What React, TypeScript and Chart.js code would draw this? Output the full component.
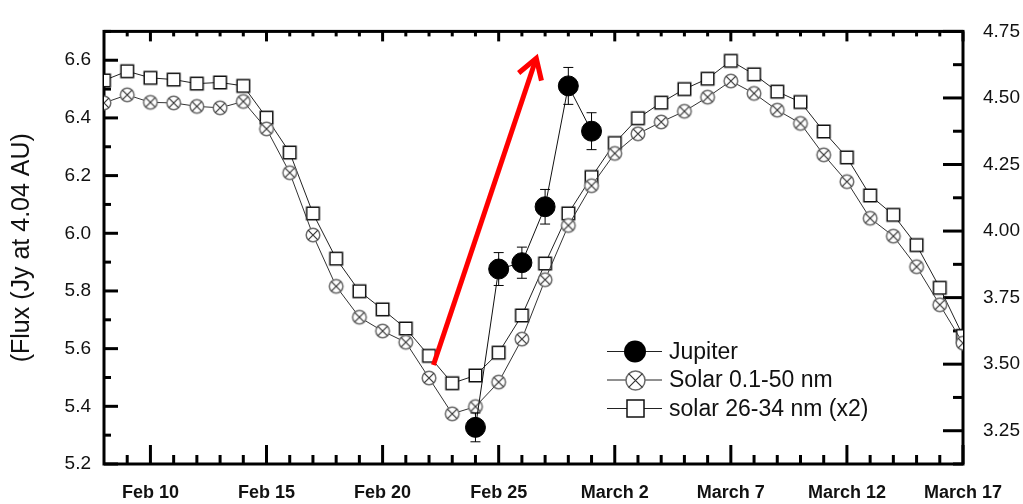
import React, { useEffect, useRef } from 'react';
import { Chart, registerables } from 'chart.js';

Chart.register(...registerables);

const FONT = '"Liberation Sans", Arial, Helvetica, sans-serif';

// Day numbers (Feb 8 = 8, March 1 = 29, March 17 = 45)
const days = [8, 9, 10, 11, 12, 13, 14, 15, 16, 17, 18, 19, 20, 21, 22, 23, 24, 25, 26, 27, 28,
  29, 30, 31, 32, 33, 34, 35, 36, 37, 38, 39, 40, 41, 42, 43, 44, 45];

const solarWide = [6.452, 6.480, 6.454, 6.452, 6.440, 6.435, 6.457, 6.362, 6.210, 5.994, 5.816,
  5.709, 5.661, 5.622, 5.498, 5.374, 5.399, 5.484, 5.633, 5.839, 6.027, 6.165, 6.277, 6.345,
  6.386, 6.423, 6.472, 6.528, 6.485, 6.427, 6.381, 6.272, 6.179, 6.052, 5.990, 5.884, 5.752, 5.619];

const solarNarrow = [6.530, 6.562, 6.539, 6.533, 6.519, 6.523, 6.511, 6.401, 6.280, 6.069, 5.912,
  5.799, 5.736, 5.670, 5.575, 5.480, 5.507, 5.586, 5.715, 5.895, 6.069, 6.195, 6.313, 6.399,
  6.453, 6.500, 6.536, 6.598, 6.551, 6.491, 6.455, 6.353, 6.263, 6.131, 6.064, 5.959, 5.811, 5.644];

const jupiterDays = [24, 25, 26, 27, 28, 29];
const jupiterFlux = [5.327, 5.876, 5.898, 6.092, 6.511, 6.354];
const jupiterErr = [0.05, 0.057, 0.054, 0.06, 0.064, 0.064];

const seriesLabels = ['Jupiter', 'Solar 0.1-50 nm', 'solar 26-34 nm (x2)'];

const xTickValues = [10, 15, 20, 25, 30, 35, 40, 45];
const xTickLabels = ['Feb 10', 'Feb 15', 'Feb 20', 'Feb 25', 'March 2', 'March 7', 'March 12', 'March 17'];
const xMinorValues = [9, 11, 12, 13, 14, 16, 17, 18, 19, 21, 22, 23, 24, 26, 27, 28, 29, 31, 32, 33,
  34, 36, 37, 38, 39, 41, 42, 43, 44];

const leftTicks = [5.2, 5.4, 5.6, 5.8, 6.0, 6.2, 6.4, 6.6];
const leftMinor = [5.3, 5.5, 5.7, 5.9, 6.1, 6.3, 6.5, 6.7];
const rightTicks = [3.25, 3.5, 3.75, 4.0, 4.25, 4.5, 4.75];
const rightMinor = [3.125, 3.375, 3.625, 3.875, 4.125, 4.375, 4.625];

const yTitle = '(Flux (Jy at 4.04 AU)';

// red arrow, in data coordinates [day, flux]
const arrowFrom = [22.19, 5.543];
const arrowTo = [26.62, 6.607];

function makeCrossCircle(r: number) {
  const s = Math.ceil(r * 2 + 4);
  const c = document.createElement('canvas');
  c.width = s; c.height = s;
  const ctx = c.getContext('2d')!;
  const m = s / 2;
  ctx.beginPath();
  ctx.arc(m, m, r, 0, Math.PI * 2);
  ctx.fillStyle = '#fff';
  ctx.fill();
  ctx.lineWidth = 1.5;
  ctx.strokeStyle = '#6a6a6a';
  ctx.stroke();
  const d = r * 0.72;
  ctx.beginPath();
  ctx.moveTo(m - d, m - d); ctx.lineTo(m + d, m + d);
  ctx.moveTo(m + d, m - d); ctx.lineTo(m - d, m + d);
  ctx.lineWidth = 1.2;
  ctx.strokeStyle = '#333';
  ctx.stroke();
  return c;
}

function makeSquare(side: number) {
  const s = Math.ceil(side + 4);
  const c = document.createElement('canvas');
  c.width = s; c.height = s;
  const ctx = c.getContext('2d')!;
  const o = (s - side) / 2;
  ctx.fillStyle = '#fff';
  ctx.fillRect(o, o, side, side);
  ctx.lineWidth = 1.5;
  ctx.strokeStyle = '#111';
  ctx.strokeRect(o, o, side, side);
  return c;
}

export default function App() {
  const ref = useRef<HTMLCanvasElement>(null);

  useEffect(() => {
    const crossMark = makeCrossCircle(6.8);
    const squareMark = makeSquare(12.5);
    const crossLegend = makeCrossCircle(9.5);
    const squareLegend = makeSquare(17);

    const framePlugin = {
      id: 'frame',
      beforeDatasetsDraw(chart: any) {
        const { ctx, chartArea: a, scales } = chart;
        ctx.save();
        ctx.strokeStyle = '#000';
        ctx.lineWidth = 3;
        ctx.lineCap = 'butt';
        const tick = (x1: number, y1: number, x2: number, y2: number) => {
          ctx.beginPath(); ctx.moveTo(x1, y1); ctx.lineTo(x2, y2); ctx.stroke();
        };
        leftTicks.forEach(v => { const y = scales.y.getPixelForValue(v); tick(a.left, y, a.left + 14, y); });
        leftMinor.forEach(v => { const y = scales.y.getPixelForValue(v); tick(a.left, y, a.left + 7, y); });
        rightTicks.forEach(v => { const y = scales.y2.getPixelForValue(v); tick(a.right - 20, y, a.right, y); });
        rightMinor.forEach(v => { const y = scales.y2.getPixelForValue(v); tick(a.right - 10, y, a.right, y); });
        xTickValues.forEach(v => {
          const x = scales.x.getPixelForValue(v);
          tick(x, a.bottom, x, a.bottom - 19);
          tick(x, a.top, x, a.top + 10);
        });
        xMinorValues.forEach(v => {
          const x = scales.x.getPixelForValue(v);
          tick(x, a.bottom, x, a.bottom - 9);
          tick(x, a.top, x, a.top + 5);
        });
        ctx.strokeRect(a.left, a.top, a.right - a.left, a.bottom - a.top);
        ctx.restore();
      },
      afterDatasetsDraw(chart: any) {
        const { ctx, scales } = chart;
        ctx.save();
        // error bars
        ctx.strokeStyle = '#000';
        ctx.lineWidth = 1;
        jupiterDays.forEach((d, i) => {
          const x = scales.x.getPixelForValue(d);
          const y1 = scales.y.getPixelForValue(jupiterFlux[i] - jupiterErr[i]);
          const y2 = scales.y.getPixelForValue(jupiterFlux[i] + jupiterErr[i]);
          ctx.beginPath();
          ctx.moveTo(x, y1); ctx.lineTo(x, y2);
          ctx.moveTo(x - 5, y1); ctx.lineTo(x + 5, y1);
          ctx.moveTo(x - 5, y2); ctx.lineTo(x + 5, y2);
          ctx.stroke();
        });
        // red arrow
        const ax1 = scales.x.getPixelForValue(arrowFrom[0]);
        const ay1 = scales.y.getPixelForValue(arrowFrom[1]);
        const ax2 = scales.x.getPixelForValue(arrowTo[0]);
        const ay2 = scales.y.getPixelForValue(arrowTo[1]);
        const ang = Math.atan2(ay2 - ay1, ax2 - ax1);
        ctx.strokeStyle = '#ff0000';
        ctx.lineWidth = 5;
        ctx.beginPath();
        ctx.moveTo(ax1, ay1);
        ctx.lineTo(ax2 - 3 * Math.cos(ang), ay2 - 3 * Math.sin(ang));
        ctx.stroke();
        const hl = 23, ha = 0.55;
        ctx.lineJoin = 'miter';
        ctx.beginPath();
        ctx.moveTo(ax2 - hl * Math.cos(ang - ha), ay2 - hl * Math.sin(ang - ha));
        ctx.lineTo(ax2, ay2);
        ctx.lineTo(ax2 - hl * Math.cos(ang + ha), ay2 - hl * Math.sin(ang + ha));
        ctx.stroke();
        // legend
        const rows = [351.5, 380, 408.5];
        ctx.font = `23px ${FONT}`;
        ctx.textBaseline = 'middle';
        ctx.textAlign = 'left';
        chart.data.datasets.forEach((ds: any, i: number) => {
          const y = rows[i];
          ctx.strokeStyle = '#222';
          ctx.lineWidth = 1;
          ctx.beginPath(); ctx.moveTo(607, y); ctx.lineTo(662, y); ctx.stroke();
          if (i === 0) {
            ctx.fillStyle = '#000';
            ctx.beginPath(); ctx.arc(635, y, 11, 0, Math.PI * 2); ctx.fill();
          } else {
            const img = i === 1 ? crossLegend : squareLegend;
            ctx.drawImage(img, Math.round(635 - img.width / 2), Math.round(y - img.height / 2));
          }
          ctx.fillStyle = '#111';
          ctx.fillText(ds.label, 669, y + 1);
        });
        ctx.restore();
      },
    };

    const chart = new Chart(ref.current!, {
      type: 'line',
      data: {
        datasets: [
          {
            label: seriesLabels[0],
            data: jupiterDays.map((d, i) => ({ x: d, y: jupiterFlux[i] })),
            borderColor: '#111',
            borderWidth: 1,
            pointStyle: 'circle',
            pointRadius: 10,
            pointBackgroundColor: '#000',
            pointBorderColor: '#000',
            pointBorderWidth: 1,
            clip: 0,
            yAxisID: 'y',
          },
          {
            label: seriesLabels[1],
            data: days.map((d, i) => ({ x: d, y: solarWide[i] })),
            borderColor: '#333',
            borderWidth: 1,
            pointStyle: crossMark,
            pointRadius: 7,
            clip: 0,
            yAxisID: 'y',
          },
          {
            label: seriesLabels[2],
            data: days.map((d, i) => ({ x: d, y: solarNarrow[i] })),
            borderColor: '#222',
            borderWidth: 1,
            pointStyle: squareMark,
            pointRadius: 7,
            clip: 0,
            yAxisID: 'y',
          },
        ],
      },
      options: {
        responsive: false,
        animation: false,
        events: [],
        layout: { padding: { top: 20, left: 0, right: 0, bottom: 0 } },
        plugins: { legend: { display: false }, tooltip: { enabled: false } },
        scales: {
          x: {
            type: 'linear',
            min: 8,
            max: 45,
            grid: { display: false, drawTicks: false },
            border: { display: false },
            afterBuildTicks: (s: any) => { s.ticks = xTickValues.map(v => ({ value: v })); },
            afterFit: (s: any) => { s.height = 40; },
            ticks: {
              autoSkip: false,
              maxRotation: 0,
              padding: 18,
              color: '#111',
              font: { family: FONT, size: 18, weight: 'bold' },
              callback: (v: any) => {
                const i = xTickValues.indexOf(Number(v));
                return i >= 0 ? xTickLabels[i] : '';
              },
            },
          },
          y: {
            type: 'linear',
            position: 'left',
            min: 5.2,
            max: 6.7,
            grid: { display: false, drawTicks: false },
            border: { display: false },
            afterBuildTicks: (s: any) => { s.ticks = leftTicks.map(v => ({ value: v })); },
            afterFit: (s: any) => { s.width = 104; },
            ticks: {
              padding: 13,
              color: '#111',
              font: { family: FONT, size: 19 },
              callback: (v: any) => Number(v).toFixed(1),
            },
            title: {
              display: true,
              text: yTitle,
              color: '#111',
              font: { family: FONT, size: 25 },
              padding: { top: 7, bottom: 0 },
            },
          },
          y2: {
            type: 'linear',
            position: 'right',
            min: 3.125,
            max: 4.75,
            grid: { display: false, drawTicks: false },
            border: { display: false },
            afterBuildTicks: (s: any) => { s.ticks = rightTicks.map(v => ({ value: v })); },
            afterFit: (s: any) => { s.width = 60; },
            ticks: {
              padding: 20,
              color: '#111',
              font: { family: FONT, size: 19 },
              callback: (v: any) => Number(v).toFixed(2),
            },
          },
        },
      },
      plugins: [framePlugin],
    } as any);

    return () => chart.destroy();
  }, []);

  return (
    <div style={{ position: 'fixed', left: 0, top: 0, width: 1023, height: 504, background: '#fff' }}>
      <canvas ref={ref} width={1023} height={504} style={{ display: 'block', width: 1023, height: 504 }} />
    </div>
  );
}
